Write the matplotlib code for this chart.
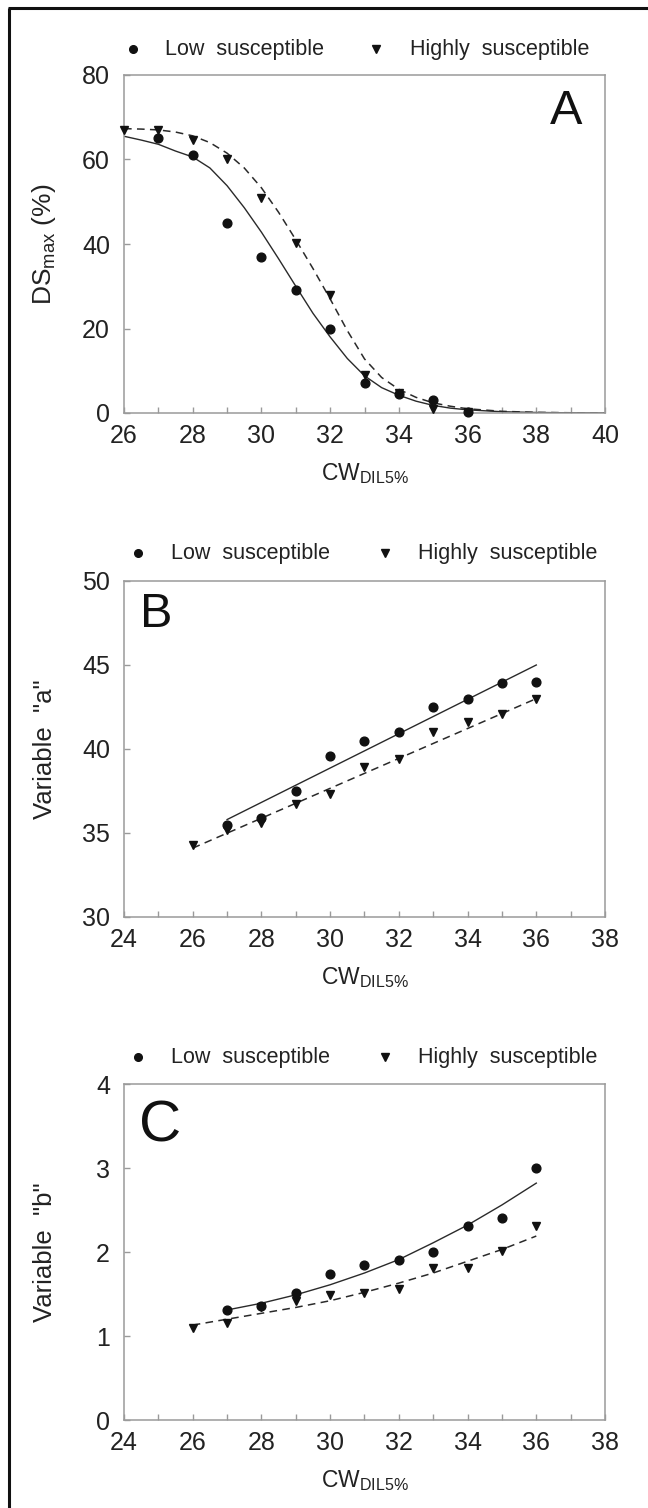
import matplotlib
matplotlib.use('Agg')
import matplotlib.pyplot as plt
from matplotlib.lines import Line2D
from matplotlib.ticker import MultipleLocator

plt.rcParams['font.family'] = ['Liberation Sans', 'DejaVu Sans']
plt.rcParams['mathtext.fontset'] = 'custom'
plt.rcParams['mathtext.rm'] = 'Liberation Sans'
plt.rcParams['mathtext.it'] = 'Liberation Sans:italic'
plt.rcParams['mathtext.bf'] = 'Liberation Sans:bold'

# ---------------- data ----------------
series_names = ['Low  susceptible', 'Highly  susceptible']

# Panel A : DSmax (%)
a_x_low = [27, 28, 29, 30, 31, 32, 33, 34, 35, 36]
a_low = [65, 61, 45, 37, 29, 20, 7, 4.5, 3, 0.3]
a_x_high = [26, 27, 28, 29, 30, 31, 32, 33, 34, 35, 36]
a_high = [67, 67, 64.5, 60, 51, 40.3, 28, 9, 4.8, 1.0, 0.3]
a_fit_x = [26, 26.5, 27, 27.5, 28, 28.5, 29, 29.5, 30, 30.5, 31, 31.5, 32,
           32.5, 33, 33.5, 34, 34.5, 35, 35.5, 36, 37, 38, 39, 40]
a_fit_low = [65.5, 64.6, 63.6, 62.0, 60.6, 58.0, 53.8, 48.6, 42.8, 36.5, 30.0,
             23.6, 18.0, 12.9, 8.8, 6.0, 4.2, 2.8, 1.8, 1.15, 0.75, 0.3, 0.12,
             0.05, 0.02]
a_fit_high = [67.3, 67.2, 67.0, 66.5, 65.6, 64.0, 61.5, 58.0, 53.3, 47.5, 41.0,
              34.2, 27.0, 19.5, 12.8, 8.4, 5.6, 3.7, 2.4, 1.6, 1.0, 0.4, 0.15,
              0.06, 0.02]

# Panel B : variable "a"
b_x_low = [27, 28, 29, 30, 31, 32, 33, 34, 35, 36]
b_low = [35.5, 35.9, 37.5, 39.6, 40.5, 41.0, 42.5, 43.0, 43.9, 44.0]
b_x_high = [26, 27, 28, 29, 30, 31, 32, 33, 34, 35, 36]
b_high = [34.3, 35.2, 35.6, 36.7, 37.3, 38.9, 39.4, 41.0, 41.6, 42.1, 43.0]
b_fit_x_low = [27, 36]
b_fit_low = [35.8, 45.0]
b_fit_x_high = [26, 36]
b_fit_high = [34.1, 43.0]

# Panel C : variable "b"
c_x_low = [27, 28, 29, 30, 31, 32, 33, 34, 35, 36]
c_low = [1.31, 1.36, 1.51, 1.74, 1.85, 1.91, 2.0, 2.31, 2.41, 3.0]
c_x_high = [26, 27, 28, 29, 30, 31, 32, 33, 34, 35, 36]
c_high = [1.10, 1.16, 1.34, 1.42, 1.49, 1.51, 1.56, 1.81, 1.81, 2.01, 2.31]
c_fit_x_low = [27, 28, 29, 30, 31, 32, 33, 34, 35, 36]
c_fit_low = [1.31, 1.39, 1.49, 1.61, 1.75, 1.91, 2.11, 2.32, 2.56, 2.82]
c_fit_x_high = [26, 27, 28, 29, 30, 31, 32, 33, 34, 35, 36]
c_fit_high = [1.13, 1.20, 1.27, 1.34, 1.42, 1.52, 1.63, 1.75, 1.89, 2.03, 2.19]

# ---------------- figure ----------------
W, H = 648, 1508
fig = plt.figure(figsize=(W / 100, H / 100), dpi=100)

AX_L, AX_R = 124, 605
SPINE = '#9a9a9a'
MK = '#111111'
LN = '#2a2a2a'
TXT = '#222222'


def make_ax(top, bottom):
    return fig.add_axes([AX_L / W, 1 - bottom / H, (AX_R - AX_L) / W, (bottom - top) / H])


def style(ax, xlim, ylim, xmaj, ymaj):
    ax.set_xlim(*xlim)
    ax.set_ylim(*ylim)
    ax.xaxis.set_major_locator(MultipleLocator(xmaj))
    ax.xaxis.set_minor_locator(MultipleLocator(1))
    ax.yaxis.set_major_locator(MultipleLocator(ymaj))
    for s in ax.spines.values():
        s.set_color(SPINE)
        s.set_linewidth(1.1)
    ax.tick_params(axis='both', which='both', direction='in', color=SPINE,
                   width=1.0, labelsize=18, labelcolor=TXT)
    ax.tick_params(axis='both', which='major', length=4.5)
    ax.tick_params(axis='x', which='minor', length=4.5)
    ax.tick_params(axis='x', which='both', pad=8)
    ax.tick_params(axis='y', which='major', pad=10)


def draw(ax, xl, yl, xh, yh, fxl, fyl, fxh, fyh):
    ax.plot(fxl, fyl, '-', color=LN, lw=1.0, zorder=2)
    ax.plot(fxh, fyh, color=LN, lw=1.1, dashes=(5, 3.5), zorder=2)
    ax.plot(xh, yh, linestyle='none', marker='v', ms=6.2, color=MK, zorder=3, clip_on=False)
    ax.plot(xl, yl, linestyle='none', marker='o', ms=6.3, color=MK, zorder=4, clip_on=False)


def legend(ax, ypos, m1, t1, m2, t2):
    tr = ax.transAxes
    fx = lambda p: (p - AX_L) / (AX_R - AX_L)
    ax.plot([fx(m1)], [ypos], marker='o', ms=5.5, color=MK, transform=tr, clip_on=False)
    ax.text(fx(t1), ypos, series_names[0], transform=tr, fontsize=15.5,
            va='center', ha='left', color=TXT)
    ax.plot([fx(m2)], [ypos], marker='v', ms=5.5, color=MK, transform=tr, clip_on=False)
    ax.text(fx(t2), ypos, series_names[1], transform=tr, fontsize=15.5,
            va='center', ha='left', color=TXT)


xlab = r'CW$_{\mathrm{DIL5\%}}$'

# Panel A
axA = make_ax(75, 413)
style(axA, (26, 40), (0, 80), 2, 20)
draw(axA, a_x_low, a_low, a_x_high, a_high, a_fit_x, a_fit_low, a_fit_x, a_fit_high)
legend(axA, 1 + (75 - 49) / 338, 133, 165, 376, 410)
axA.text(0.952, 0.958, 'A', transform=axA.transAxes, fontsize=35, ha='right', va='top', color='#111111')
axA.set_ylabel(r'DS$_{\mathrm{max}}$ (%)', fontsize=19, color=TXT, va='center')
axA.yaxis.set_label_coords((44 - AX_L) / (AX_R - AX_L), 0.5)
axA.set_xlabel(xlab, fontsize=16.5, color=TXT, va='top')
axA.xaxis.set_label_coords(0.5, -(461 - 413) / 338)

# Panel B
axB = make_ax(581, 917)
style(axB, (24, 38), (30, 50), 2, 5)
draw(axB, b_x_low, b_low, b_x_high, b_high, b_fit_x_low, b_fit_low, b_fit_x_high, b_fit_high)
legend(axB, 1 + (581 - 553) / 336, 138, 171, 385, 418)
axB.text(0.034, 0.967, 'B', transform=axB.transAxes, fontsize=35, ha='left', va='top', color='#111111')
axB.set_ylabel('Variable  "a"', fontsize=18.5, color=TXT, va='center')
axB.yaxis.set_label_coords((45 - AX_L) / (AX_R - AX_L), 0.5)
axB.set_xlabel(xlab, fontsize=16.5, color=TXT, va='top')
axB.xaxis.set_label_coords(0.5, -(965 - 917) / 336)

# Panel C
axC = make_ax(1084, 1420)
style(axC, (24, 38), (0, 4), 2, 1)
draw(axC, c_x_low, c_low, c_x_high, c_high, c_fit_x_low, c_fit_low, c_fit_x_high, c_fit_high)
legend(axC, 1 + (1084 - 1057) / 336, 138, 171, 385, 418)
axC.text(0.031, 0.955, 'C', transform=axC.transAxes, fontsize=42, ha='left', va='top', color='#111111')
axC.set_ylabel('Variable  "b"', fontsize=18.5, color=TXT, va='center')
axC.yaxis.set_label_coords((45 - AX_L) / (AX_R - AX_L), 0.5)
axC.set_xlabel(xlab, fontsize=16.5, color=TXT, va='top')
axC.xaxis.set_label_coords(0.5, -(1468 - 1420) / 336)

# outer frame (left and top edges)
fig.add_artist(Line2D([8.5 / W, 8.5 / W], [0, 1 - 7.5 / H], color='#111111', lw=2.2,
                      transform=fig.transFigure, solid_capstyle='butt'))
fig.add_artist(Line2D([7.5 / W, 1], [1 - 8 / H, 1 - 8 / H], color='#111111', lw=2.2,
                      transform=fig.transFigure, solid_capstyle='butt'))

fig.savefig('out.png', dpi=100)
